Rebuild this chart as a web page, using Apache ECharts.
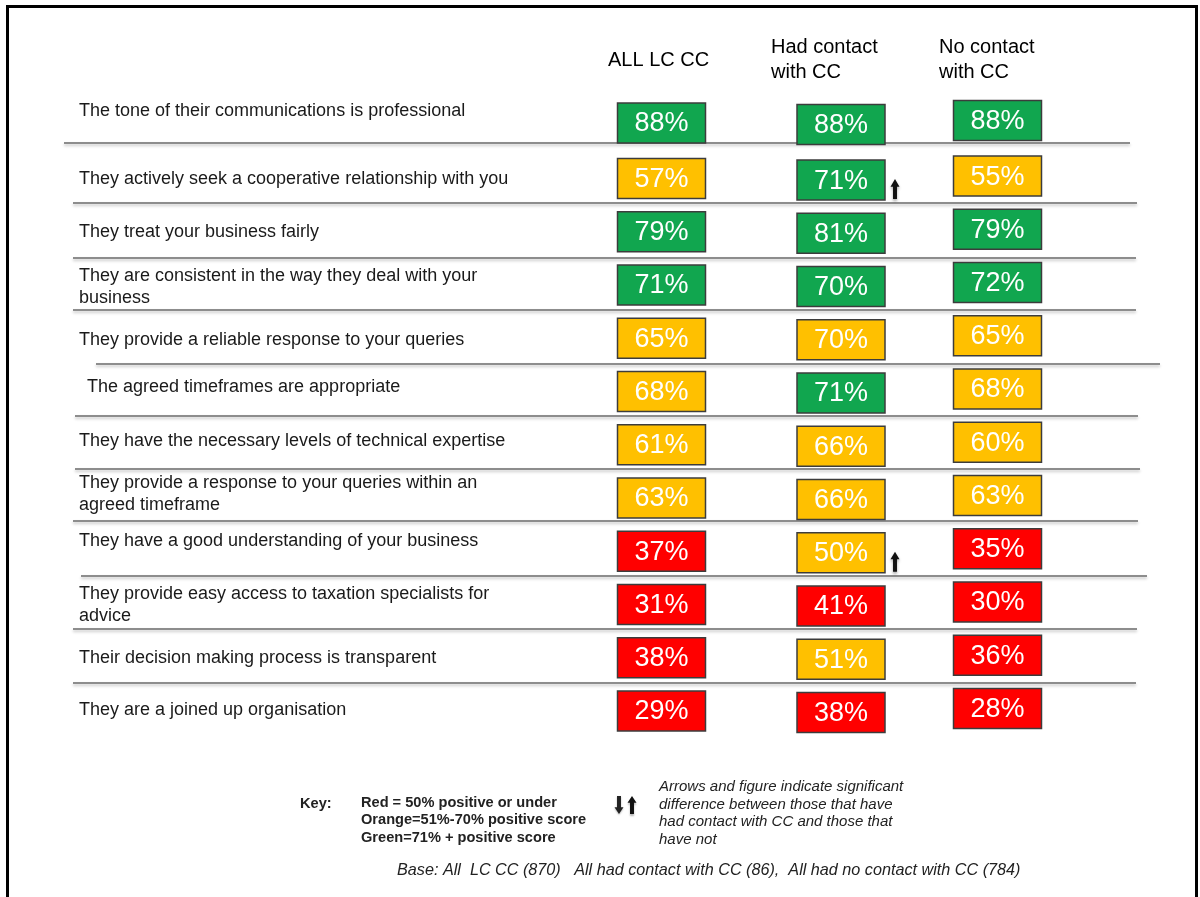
<!DOCTYPE html>
<html>
<head>
<meta charset="utf-8">
<title>Perceptions of LC CC</title>
<script src="https://cdn.jsdelivr.net/npm/echarts@6/dist/echarts.min.js"></script>
<style>
  html, body { margin: 0; padding: 0; background: #ffffff; }
  #chart { width: 1200px; height: 897px; }
</style>
</head>
<body>
<div id="chart"></div>
<script>
// ---- data -------------------------------------------------------------
const statements = [
  'The tone of their communications is professional',
  'They actively seek a cooperative relationship with you',
  'They treat your business fairly',
  'They are consistent in the way they deal with your\nbusiness',
  'They provide a reliable response to your queries',
  'The agreed timeframes are appropriate',
  'They have the necessary levels of technical expertise',
  'They provide a response to your queries within an\nagreed timeframe',
  'They have a good understanding of your business',
  'They provide easy access to taxation specialists for\nadvice',
  'Their decision making process is transparent',
  'They are a joined up organisation'
];
const groups = ['ALL LC CC', 'Had contact\nwith CC', 'No contact\nwith CC'];

// % positive score per group
const allLcCc    = [88, 57, 79, 71, 65, 68, 61, 63, 37, 31, 38, 29];
const hadContact = [88, 71, 81, 70, 70, 71, 66, 66, 50, 41, 51, 38];
const noContact  = [88, 55, 79, 72, 65, 68, 60, 63, 35, 30, 36, 28];

// colour band shown for each cell (R = red, O = orange, G = green)
const allLcCcBand    = ['G', 'O', 'G', 'G', 'O', 'O', 'O', 'O', 'R', 'R', 'R', 'R'];
const hadContactBand = ['G', 'G', 'G', 'G', 'O', 'G', 'O', 'O', 'O', 'R', 'O', 'R'];
const noContactBand  = ['G', 'O', 'G', 'G', 'O', 'O', 'O', 'O', 'R', 'R', 'R', 'R'];

// significant difference between those with and without contact (arrow up)
const hadContactSigUp = [false, true, false, false, false, false, false, false, true, false, false, false];

// ---- styling / layout --------------------------------------------------
const FONT = "'Liberation Sans', Arial, Helvetica, sans-serif";
const BAND_COLOR = { R: '#FF0000', O: '#FFC000', G: '#11A64F' };
const BOX_W = 88, BOX_H = 40;
const COL_DX = [0, 11.5, 0];          // horizontal nudge of each column's boxes
const COL_DY = [0, 1.6, -2.4];        // vertical nudge of each column's boxes
const ROW_DY = [-2.3, 0, 0, 0, 0, 0, 0, 0, 0, 0, 0, 0];
const LABEL_X = 79;
const LABEL_DX = [0, 0, 0, 0, 0, 8, 0, 0, 0, 0, 0, 0];
const LABEL_DY = [-14, 0.5, 0, 2, 2, -4.5, -4, -4, -10, 0.5, 0, -1];
// separator under each row: [left, right, offset below row centre]
const SEPARATORS = [
  [64, 1130, 17.7], [73, 1137, 24.5], [73, 1136, 26.3], [73, 1136, 25],
  [96, 1160, 25.8], [75, 1138, 24.5], [75, 1140, 24.3], [73, 1138, 23.1],
  [81, 1147, 24.8], [73, 1137, 24.6], [73, 1136, 25.3]
];

const columns = [
  { values: allLcCc, bands: allLcCcBand, sig: null },
  { values: hadContact, bands: hadContactBand, sig: hadContactSigUp },
  { values: noContact, bands: noContactBand, sig: null }
];

function upArrowPoints(cx, cy, h, w) {
  const hh = h / 2, hw = w / 2, sw = w * 0.22;
  const neck = cy - hh + h * 0.38;
  return [[cx, cy - hh], [cx + hw, neck], [cx + sw, neck], [cx + sw, cy + hh],
          [cx - sw, cy + hh], [cx - sw, neck], [cx - hw, neck]];
}
function downArrowPoints(cx, cy, h, w) {
  return upArrowPoints(cx, cy, h, w).map(p => [p[0], 2 * cy - p[1]]);
}

function cellSeries(colIndex) {
  const col = columns[colIndex];
  return {
    type: 'custom',
    coordinateSystem: 'cartesian2d',
    data: col.values.map((v, i) => [colIndex, i, v]),
    encode: { x: 0, y: 1 },
    z: 3,
    renderItem: function (params, api) {
      const row = params.dataIndex;
      const v = api.value(2);
      const p = api.coord([colIndex, row]);
      const cx = p[0] + COL_DX[colIndex];
      const cy = p[1] + COL_DY[colIndex] + ROW_DY[row];
      const children = [
        {
          type: 'rect',
          shape: { x: cx - BOX_W / 2, y: cy - BOX_H / 2, width: BOX_W, height: BOX_H },
          style: { fill: BAND_COLOR[col.bands[row]], stroke: '#3c3c3c', lineWidth: 1.5 }
        },
        {
          type: 'text',
          style: {
            text: v + '%', x: cx, y: cy + 1, align: 'center', verticalAlign: 'middle',
            font: '27px ' + FONT, fill: '#ffffff'
          }
        }
      ];
      if (col.sig && col.sig[row]) {
        children.push({
          type: 'polygon',
          shape: { points: upArrowPoints(cx + BOX_W / 2 + 10, cy + 9, 20, 9) },
          style: {
            fill: '#111111', shadowColor: 'rgba(0,0,0,0.35)', shadowBlur: 3, shadowOffsetY: 2
          }
        });
      }
      return { type: 'group', children: children };
    }
  };
}

const chart = echarts.init(document.getElementById('chart'), null, { renderer: 'canvas' });

const option = {
  backgroundColor: '#ffffff',
  animation: false,
  grid: {
    left: 577.5, right: 118.5, top: 98.6, bottom: 159.5,
    containLabel: false, outerBoundsMode: 'none'
  },
  xAxis: {
    type: 'category',
    position: 'top',
    data: groups,
    axisLine: { show: false },
    axisTick: { show: false },
    splitLine: { show: false },
    axisLabel: {
      interval: 0,
      margin: 38.6,
      verticalAlign: 'middle',
      formatter: function (value, index) {
        const style = index === 0 ? 'a' : 'b';
        return value.split('\n').map(s => '{' + style + '|' + s + '}').join('\n');
      },
      rich: {
        a: { width: 107, align: 'left', fontSize: 20, lineHeight: 25, fontFamily: FONT, color: '#000' },
        b: { width: 117, align: 'left', fontSize: 20, lineHeight: 25, fontFamily: FONT, color: '#000' }
      }
    }
  },
  yAxis: {
    type: 'category',
    inverse: true,
    data: statements,
    axisLine: { show: false },
    axisTick: { show: false },
    axisLabel: { show: false },
    splitLine: { show: false }
  },
  series: [
    // row separators
    {
      type: 'custom',
      coordinateSystem: 'cartesian2d',
      data: SEPARATORS.map((s, i) => [0, i]),
      encode: { x: 0, y: 1 },
      z: 1,
      renderItem: function (params, api) {
        const i = params.dataIndex;
        const y = api.coord([0, i])[1] + SEPARATORS[i][2];
        return {
          type: 'line',
          shape: { x1: SEPARATORS[i][0], y1: y, x2: SEPARATORS[i][1], y2: y },
          style: {
            stroke: '#8d8d8d', lineWidth: 2,
            shadowColor: 'rgba(0,0,0,0.22)', shadowBlur: 3, shadowOffsetY: 2
          }
        };
      }
    },
    // statement text
    {
      type: 'custom',
      coordinateSystem: 'cartesian2d',
      data: statements.map((s, i) => [0, i]),
      encode: { x: 0, y: 1 },
      z: 2,
      renderItem: function (params, api) {
        const i = params.dataIndex;
        const y = api.coord([0, i])[1] + LABEL_DY[i];
        return {
          type: 'text',
          style: {
            text: statements[i], x: LABEL_X + LABEL_DX[i], y: y,
            align: 'left', verticalAlign: 'middle',
            font: '18px ' + FONT, lineHeight: 22, fill: '#1a1a1a'
          }
        };
      }
    },
    cellSeries(0),
    cellSeries(1),
    cellSeries(2)
  ],
  graphic: [
    // frame
    {
      type: 'rect', silent: true, z: 10,
      shape: { x: 7.5, y: 6.5, width: 1189, height: 920 },
      style: { fill: 'none', stroke: '#000', lineWidth: 3 }
    },
    // key
    {
      type: 'text', silent: true, left: 300, top: 796,
      style: { text: 'Key:', font: 'bold 14.6px ' + FONT, fill: '#222' }
    },
    {
      type: 'text', silent: true, left: 361, top: 794,
      style: {
        text: 'Red = 50% positive or under\nOrange=51%-70% positive score\nGreen=71% + positive score',
        font: 'bold 14.6px ' + FONT, lineHeight: 17.5, fill: '#222'
      }
    },
    {
      type: 'polygon', silent: true,
      shape: { points: downArrowPoints(619, 805, 18, 9) },
      style: { fill: '#222', shadowColor: 'rgba(0,0,0,0.3)', shadowBlur: 2, shadowOffsetY: 1 }
    },
    {
      type: 'polygon', silent: true,
      shape: { points: upArrowPoints(632, 805, 18, 9) },
      style: { fill: '#111', shadowColor: 'rgba(0,0,0,0.3)', shadowBlur: 2, shadowOffsetY: 2 }
    },
    {
      type: 'text', silent: true, left: 659, top: 778,
      style: {
        text: 'Arrows and figure indicate significant\ndifference between those that have\nhad contact with CC and those that\nhave not',
        font: 'italic 15px ' + FONT, lineHeight: 17.7, fill: '#222'
      }
    },
    {
      type: 'text', silent: true, left: 397, top: 862,
      style: {
        text: 'Base: All  LC CC (870)   All had contact with CC (86),  All had no contact with CC (784)',
        font: 'italic 16.2px ' + FONT, fill: '#222'
      }
    }
  ]
};

chart.setOption(option);
</script>
</body>
</html>
